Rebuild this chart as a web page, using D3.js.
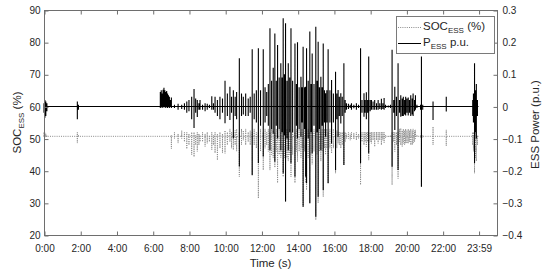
<!DOCTYPE html>
<html>
<head>
<meta charset="utf-8">
<script src="https://d3js.org/d3.v7.min.js"></script>
<style>
body{margin:0;background:#fff;}
svg text{font-family:"Liberation Sans",Arial,sans-serif;fill:#262626;}
.axis line{stroke:#6e6e6e;}
.axis path{display:none;}
.axis text{font-size:10px;fill:#262626;}
</style>
</head>
<body>
<script>
//whole chart in an anon function so nothing leaks out
(function(){

//x axis ticks (hours of the day) and their labels
var xTickHours = [0, 2, 4, 6, 8, 10, 12, 14, 16, 18, 20, 22, 23.983];
var xTickLabels = ["0:00","2:00","4:00","6:00","8:00","10:00","12:00","14:00","16:00","18:00","20:00","22:00","23:59"];
//left axis (SOC %) and right axis (power p.u.) ticks
var socTicks = [20, 30, 40, 50, 60, 70, 80, 90];
var pTicks = [-0.4, -0.3, -0.2, -0.1, 0, 0.1, 0.2, 0.3];

//resting levels the traces sit at between swings
var pBase = 0;
var socBase = 50.7;

//P_ESS: [hour, high, low] per swing
var pessSpikes = [
	[0.00,0.01,-0.02],[0.05,0.02,-0.035],[0.10,0.015,-0.03],[0.16,0.01,-0.015],[0.25,0,0],
	[1.78,0,0],[1.84,0.015,-0.04],[1.90,0.005,-0.01],[1.96,0,0],
	[6.38,0,0],[6.42,0.045,-0.005],[6.47,0.05,0],[6.52,0.04,-0.005],[6.57,0.052,0],[6.62,0.058,-0.003],
	[6.67,0.05,0],[6.72,0.045,-0.005],[6.77,0.048,0],[6.82,0.04,-0.005],[6.87,0.035,0],[6.92,0.03,-0.005],
	[6.97,0.02,0],[7.03,0.028,-0.005],[7.08,0,0],
	[7.20,0.005,-0.005],[7.40,0.008,-0.01],[7.60,0.005,-0.008],[7.75,0.01,-0.01],[7.88,0.015,-0.02],
	[8.00,0.02,-0.015],[8.15,0.03,-0.04],[8.28,0.054,-0.067],[8.37,0.025,-0.02],[8.46,0.02,-0.033],
	[8.55,0.01,-0.01],[8.61,0.02,-0.01],[8.75,0.005,-0.01],[8.89,0.01,-0.015],[9.01,0.008,-0.01],
	[9.13,0.005,-0.005],[9.26,0.032,-0.01],[9.35,0.01,-0.01],[9.44,0.03,-0.02],[9.57,0.02,-0.03],
	[9.71,0.03,-0.04],[9.85,0.025,-0.02],[9.99,0.08,-0.052],[10.12,0.04,-0.03],[10.26,0.061,-0.042],
	[10.35,0.03,-0.02],[10.45,0.05,-0.1],[10.55,0.03,-0.03],[10.63,0.045,-0.04],[10.78,0.15,-0.187],
	[10.90,0.04,-0.03],[11.00,0.03,-0.025],[11.13,0.04,-0.03],[11.27,0.025,-0.03],[11.38,0.03,-0.02],
	[11.49,0.178,-0.213],[11.60,0.04,-0.04],[11.72,0.05,-0.05],[11.83,0.181,-0.176],[11.95,0.05,-0.06],
	[12.10,0.178,-0.156],[12.20,0.06,-0.05],[12.29,0.045,-0.03],[12.38,0.07,-0.06],[12.47,0.243,-0.136],
	[12.56,0.08,-0.07],[12.65,0.12,-0.085],[12.74,0.227,-0.172],[12.82,0.08,-0.06],[12.89,0.191,-0.1],
	[12.98,0.09,-0.07],[13.07,0.134,-0.136],[13.14,0.09,-0.08],[13.20,0.274,-0.208],[13.27,0.1,-0.09],
	[13.33,0.259,-0.296],[13.41,0.08,-0.1],[13.48,0.134,-0.136],[13.56,0.09,-0.08],[13.63,0.243,-0.177],
	[13.72,0.08,-0.08],[13.85,0.196,-0.219],[13.93,0.07,-0.06],[13.99,0.2,-0.1],[14.08,0.06,-0.07],
	[14.18,0.092,-0.094],[14.24,0.06,-0.05],[14.30,0.186,-0.312],[14.38,0.06,-0.07],[14.44,0.061,-0.219],
	[14.49,0.181,-0.239],[14.58,0.08,-0.1],[14.67,0.233,-0.301],[14.74,0.07,-0.08],[14.80,0.165,-0.146],
	[14.90,0.07,-0.06],[15.00,0.248,-0.343],[15.07,0.08,-0.08],[15.13,0.201,-0.281],[15.20,0.06,-0.07],
	[15.28,0.092,-0.136],[15.35,0.06,-0.06],[15.41,0.196,-0.26],[15.48,0.05,-0.05],[15.54,0.041,-0.094],
	[15.61,0.05,-0.05],[15.68,0.178,-0.239],[15.78,0.05,-0.05],[15.87,0.082,-0.115],[15.97,0.04,-0.05],
	[16.09,0.108,-0.198],[16.16,0.04,-0.04],[16.23,0.051,-0.094],[16.30,0.03,-0.03],[16.38,0.041,-0.053],
	[16.46,0.03,-0.03],[16.55,0.134,-0.182],[16.62,0.02,-0.02],[16.69,0.01,-0.01],[16.80,0.008,-0.008],
	[16.90,0.005,-0.005],[16.97,0.01,-0.01],[17.10,0.005,-0.006],[17.24,0.01,-0.01],[17.36,0.005,-0.005],
	[17.47,0.181,-0.177],[17.55,0.02,-0.02],[17.66,0.041,-0.032],[17.72,0.02,-0.02],[17.79,0.044,-0.04],
	[17.86,0.02,-0.02],[17.92,0.155,-0.146],[18.00,0.02,-0.015],[18.07,0.02,-0.01],[18.16,0.015,-0.01],
	[18.25,0.02,-0.01],[18.35,0.01,-0.01],[18.44,0.02,-0.01],[18.53,0.01,-0.008],[18.62,0.024,-0.01],
	[18.70,0.01,-0.008],[18.77,0.026,-0.01],[18.85,0.005,-0.005],[19.00,0.003,-0.003],[19.12,0.005,-0.005],
	[19.21,0.176,-0.188],[19.30,0.02,-0.02],[19.36,0.061,-0.073],[19.45,0.03,-0.03],[19.54,0.134,-0.198],
	[19.62,0.02,-0.02],[19.69,0.035,-0.032],[19.77,0.025,-0.03],[19.83,0.03,-0.03],[19.90,0.02,-0.025],
	[19.96,0.03,-0.028],[20.03,0.025,-0.02],[20.10,0.028,-0.028],[20.17,0.02,-0.02],[20.24,0.035,-0.03],
	[20.32,0.025,-0.025],[20.37,0.04,-0.03],[20.45,0.02,-0.015],[20.50,0.035,-0.01],[20.58,0.005,-0.005],
	[20.70,0,0],[20.78,0.005,-0.01],[20.83,0.155,-0.25],[20.90,0.005,-0.01],[21.00,0,0],
	[21.40,0,0],[21.47,0.015,-0.042],[21.53,0,0],[22.12,0,0],[22.20,0.03,-0.016],[22.27,0,0],
	[23.60,0,0],[23.66,0.02,-0.03],[23.70,0.04,-0.05],[23.76,0.134,-0.177],[23.81,0.05,-0.08],
	[23.86,0.07,-0.1],[23.92,0.02,-0.03],[23.98,0,0]
];

//SOC_ESS: [hour, high, low] per swing
var socSpikes = [
	[0.00,52,50.5],[0.05,51.8,50.4],[0.10,51.5,50.6],[0.16,51,50.6],[0.25,50.7,50.7],
	[1.78,50.7,50.7],[1.84,52,48.6],[1.90,51,50.5],[1.96,50.7,50.7],
	[6.95,50.7,50.7],[7.03,51,46.8],[7.08,50.7,50.7],
	[7.20,52,50],[7.40,51.5,48.6],[7.60,52.5,50],[7.75,52,49],[7.88,52,46.8],
	[8.00,51.5,48],[8.15,52,44.9],[8.28,52,44.3],[8.37,51,48],[8.46,52,46],
	[8.55,51.5,48],[8.61,51,49],[8.75,52,49],[8.89,51.5,47.5],[9.01,52,48.5],
	[9.13,51,49],[9.26,52,46.5],[9.35,51,48],[9.44,52,45.5],[9.57,51.5,43.3],
	[9.71,52,47],[9.85,51.5,45.5],[9.99,52.5,45.4],[10.12,52,48],[10.26,53,49],
	[10.35,52,47],[10.45,52,46.5],[10.55,52.5,48],[10.63,53,46],[10.78,52,38.1],
	[10.90,53,48],[11.00,52.5,49.5],[11.13,53,48],[11.27,52,49],[11.38,52.5,48],
	[11.49,52,38.5],[11.60,53,48],[11.72,52,47],[11.83,52,31.4],[11.95,53,46],
	[12.10,52,40.2],[12.20,53,47],[12.29,52,48],[12.38,53,46],[12.47,52,40.2],
	[12.56,53,45],[12.65,52.5,44],[12.74,52,41],[12.82,53,46],[12.89,52,36.2],
	[12.98,53,45],[13.07,52,44],[13.14,53,45],[13.20,52,38.1],[13.27,53,44],
	[13.33,52,30.4],[13.41,53,44],[13.48,52,43],[13.56,53,45],[13.63,52,38.1],
	[13.72,53,45],[13.85,52,36.2],[13.93,53,46],[13.99,52,42.8],[14.08,53,46],
	[14.18,52,44],[14.24,53,47],[14.30,52,28.8],[14.38,53,46],[14.44,52,36.2],
	[14.49,52,34],[14.58,53,44],[14.67,52,29.9],[14.74,53,45],[14.80,52,42],
	[14.90,53,46],[15.00,52,24.7],[15.07,53,45],[15.13,52,30],[15.20,53,46],
	[15.28,52,43],[15.35,53,46],[15.41,52,31.9],[15.48,53,47],[15.54,52,45],
	[15.61,53,47],[15.68,52,36.1],[15.78,53,47],[15.87,52,45.4],[15.97,53,47],
	[16.09,52,39.2],[16.16,52.5,47],[16.23,52,48.5],[16.30,52,48],[16.38,52,47],
	[16.46,52,48],[16.55,52,41.8],[16.62,52,49],[16.69,51.5,50],[16.80,52,50],
	[16.90,51.5,49.5],[16.97,52,50],[17.10,51.8,49.8],[17.24,52,49.5],[17.36,51.5,50],
	[17.47,52,35.6],[17.55,52,49],[17.66,52,48],[17.72,52,49],[17.79,52,47.5],
	[17.86,52,49],[17.92,52,43.3],[18.00,52,49],[18.07,52,48.5],[18.16,52,49.5],
	[18.25,52,47.5],[18.35,52,49.5],[18.44,52,48.5],[18.53,52,49.5],[18.62,52,48],
	[18.70,52,49.5],[18.77,52,48.7],[18.85,51,50.2],[19.00,50.9,50.5],[19.12,51,50.5],
	[19.21,52,35.6],[19.30,52,49],[19.36,52,46],[19.45,52,48],[19.54,52,37.6],
	[19.62,53,49],[19.69,53.2,48],[19.77,52.5,47.5],[19.83,53,48.5],[19.90,52.5,48],
	[19.96,53,48.5],[20.03,52.5,48.5],[20.10,53,48.5],[20.17,52.5,49],[20.24,53,48],
	[20.32,52.5,48],[20.37,53,48.5],[20.45,52.5,49],[20.50,52.7,50],[20.58,51,50.5],
	[20.70,50.7,50.7],[20.78,51,50.2],[20.83,52,35],[20.90,51,50.4],[21.00,50.7,50.7],
	[21.40,50.7,50.7],[21.47,53.7,48],[21.53,50.7,50.7],[22.12,50.7,50.7],[22.20,52.7,47.7],[22.27,50.7,50.7],
	[23.60,50.7,50.7],[23.66,52,48],[23.70,52,46],[23.76,52,39.2],[23.81,52,44],
	[23.86,52,43],[23.92,51,48],[23.98,50.7,50.7]
];

//SVG CANVAS
var w = 550, h = 276;
var plotL = 44, plotR = 497, plotT = 10, plotB = 235;

var svg = d3.select("body")
	.append("svg")
	.attr("width", w)
	.attr("height", h);

//SCALES
var x = d3.scaleLinear().domain([0, 25]).range([plotL, plotR]);
var ySoc = d3.scaleLinear().domain([20, 90]).range([plotB, plotT]);
var yP = d3.scaleLinear().domain([-0.4, 0.3]).range([plotB, plotT]);

//each swing is a vertical needle: rest level -> high -> low -> rest level
function needles(rows, base){
	var pts = [];
	rows.forEach(function(d){
		pts.push([d[0], base]);
		pts.push([d[0], d[1]]);
		pts.push([d[0], d[2]]);
		pts.push([d[0], base]);
	});
	return pts;
}

var socLine = d3.line()
	.x(function(d){ return x(d[0]); })
	.y(function(d){ return ySoc(d[1]); });

var pLine = d3.line()
	.x(function(d){ return x(d[0]); })
	.y(function(d){ return yP(d[1]); });

//SOC dotted gray first so power sits on top
svg.append("path")
	.datum(needles(socSpikes, socBase))
	.attr("d", socLine)
	.attr("fill", "none")
	.attr("stroke", "#8a8a8a")
	.attr("stroke-width", 1)
	.attr("stroke-dasharray", "1,1.2");

svg.append("path")
	.datum(needles(pessSpikes, pBase))
	.attr("d", pLine)
	.attr("fill", "none")
	.attr("stroke", "#000")
	.attr("stroke-width", 1.1);

//AXES (ticks point inward, like matlab)
var xAxisB = d3.axisBottom(x)
	.tickValues(xTickHours)
	.tickFormat(function(d, i){ return xTickLabels[i]; })
	.tickSize(-4).tickSizeOuter(0).tickPadding(9);
svg.append("g").attr("class", "axis")
	.attr("transform", "translate(0.5," + (plotB + 0.5) + ")")
	.call(xAxisB);

var xAxisT = d3.axisTop(x)
	.tickValues(xTickHours)
	.tickFormat("")
	.tickSize(-4).tickSizeOuter(0);
svg.append("g").attr("class", "axis")
	.attr("transform", "translate(0.5," + (plotT + 0.5) + ")")
	.call(xAxisT);

var yAxisL = d3.axisLeft(ySoc)
	.tickValues(socTicks)
	.tickFormat(d3.format("d"))
	.tickSize(-4).tickSizeOuter(0).tickPadding(4);
svg.append("g").attr("class", "axis")
	.attr("transform", "translate(" + (plotL + 0.5) + ",0.5)")
	.call(yAxisL);

var yAxisR = d3.axisRight(yP)
	.tickValues(pTicks)
	.tickFormat(d3.format(".1~f"))
	.tickSize(-4).tickSizeOuter(0).tickPadding(5);
svg.append("g").attr("class", "axis")
	.attr("transform", "translate(" + (plotR + 0.5) + ",0.5)")
	.call(yAxisR);

//box around the plot
svg.append("rect")
	.attr("x", plotL + 0.5).attr("y", plotT + 0.5)
	.attr("width", plotR - plotL).attr("height", plotB - plotT)
	.attr("fill", "none")
	.attr("stroke", "#6e6e6e");

//AXIS TITLES
svg.append("text")
	.attr("x", (plotL + plotR) / 2).attr("y", 267)
	.attr("text-anchor", "middle")
	.style("font-size", "11.5px")
	.text("Time (s)");

var leftTitle = svg.append("text")
	.attr("transform", "translate(21," + ((plotT + plotB) / 2) + ") rotate(-90)")
	.attr("text-anchor", "middle")
	.style("font-size", "11.5px");
leftTitle.append("tspan").text("SOC");
leftTitle.append("tspan").attr("dy", "0.35em").style("font-size", "8px").text("ESS");
leftTitle.append("tspan").attr("dy", "-0.25em").text(" (%)");

svg.append("text")
	.attr("transform", "translate(539," + ((plotT + plotB) / 2 + 2) + ") rotate(-90)")
	.attr("text-anchor", "middle")
	.style("font-size", "11.5px")
	.text("ESS Power (p.u.)");

//LEGEND
var legend = svg.append("g");
legend.append("rect")
	.attr("x", 396.5).attr("y", 16.5)
	.attr("width", 98).attr("height", 37)
	.attr("fill", "#fff")
	.attr("stroke", "#7a7a7a");

legend.append("line")
	.attr("x1", 398).attr("x2", 421).attr("y1", 27.5).attr("y2", 27.5)
	.attr("stroke", "#8a8a8a").attr("stroke-dasharray", "1,1.2");
legend.append("line")
	.attr("x1", 398).attr("x2", 421).attr("y1", 43.5).attr("y2", 43.5)
	.attr("stroke", "#000");

var leg1 = legend.append("text").attr("x", 423).attr("y", 30).style("font-size", "11.5px");
leg1.append("tspan").text("SOC");
leg1.append("tspan").attr("dy", "0.35em").style("font-size", "8px").text("ESS");
leg1.append("tspan").attr("dy", "-0.25em").text(" (%)");

var leg2 = legend.append("text").attr("x", 423).attr("y", 46).style("font-size", "11.5px");
leg2.append("tspan").text("P");
leg2.append("tspan").attr("dy", "0.35em").style("font-size", "8px").text("ESS");
leg2.append("tspan").attr("dy", "-0.25em").text(" p.u.");

})();
</script>
</body>
</html>
